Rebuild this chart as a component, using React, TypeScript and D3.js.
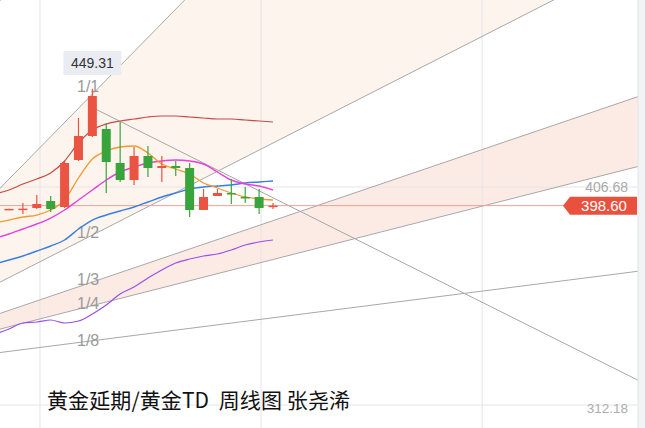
import React from 'react';
import * as d3 from 'd3';

const W = 645;
const H = 428;

// weekly candles (index 0..19)
const opens = [397.0, 397.0, 397.58, 400.61, 398.01, 418.38, 428.79, 431.82, 417.08, 409.71, 420.12, 414.92, 415.78, 414.92, 396.71, 402.78, 404.08, 402.35, 402.35, 398.01];
const closes = [397.2, 397.3, 399.31, 397.14, 417.08, 428.79, 446.13, 417.52, 409.71, 420.12, 414.92, 415.78, 414.92, 396.71, 402.35, 404.08, 403.65, 402.13, 397.58, 398.6];
const highs = [397.3, 399.74, 403.21, 402.78, 417.95, 436.59, 449.31, 434.42, 434.86, 424.02, 424.45, 420.12, 417.95, 417.08, 405.81, 405.81, 410.15, 406.68, 405.81, 399.74];
const lows = [396.9, 394.98, 397.14, 395.84, 397.58, 417.95, 428.35, 404.08, 408.85, 407.55, 411.0, 408.85, 411.45, 393.67, 396.71, 402.78, 399.31, 399.74, 394.98, 397.14];

// indicator lines, first value sits one week before candle 0
const MA_START = -1;
const ma5 = [391.07, 392.37, 393.68, 394.54, 396.71, 401.04, 410.58, 418.82, 422.29, 424.02, 424.45, 421.42, 416.65, 414.48, 412.32, 408.41, 406.25, 404.08, 402.35, 401.48, 401.04];
const ma10 = [384.57, 386.31, 388.47, 390.64, 393.24, 396.71, 401.04, 405.38, 409.71, 413.18, 415.35, 417.08, 417.95, 418.38, 417.95, 416.65, 413.18, 409.71, 407.98, 407.11, 405.38];
const bollMid = [373.3, 375.03, 376.77, 378.94, 381.1, 383.7, 388.47, 392.37, 394.54, 396.28, 398.01, 400.18, 402.35, 404.08, 405.81, 406.68, 407.11, 407.55, 408.41, 408.85, 409.28];
const bollUp = [403.65, 405.38, 407.98, 410.15, 412.75, 417.95, 425.75, 431.39, 433.99, 435.29, 436.16, 437.02, 437.46, 437.46, 437.02, 436.59, 436.16, 436.16, 435.72, 435.29, 434.86];
const bollLow = [342.96, 345.12, 347.73, 348.16, 349.03, 347.73, 348.59, 351.63, 355.53, 360.3, 363.33, 367.23, 370.7, 373.73, 375.47, 376.77, 377.64, 379.37, 381.54, 382.84, 383.7];

// gann fan
const gannOrigin = { index: -13.9, price: 324.75 };
const gannUnit = 6.14; // price per week for 1/1
const gannRatios = [2, 1, 1 / 2, 1 / 3, 1 / 4, 1 / 8];
const gannLabels = ['1/1', '1/2', '1/3', '1/4', '1/8'];
const gannLabelRatios = [1, 1 / 2, 1 / 3, 1 / 4, 1 / 8];

// descending line from the top
const trendStart = { index: 6, price: 441.14 };
const trendSlope = -3.01;

const gridPrices = [406.68, 312.18];
const gridIndices = [2.23, 18.14, 34.05];
const highPrice = 449.31;
const lastPrice = 398.6;
const title = '黄金延期/黄金TD  周线图 张尧浠';

const RED = '#ea5442';
const GREEN = '#3aa43c';
const NUM_FONT = '"Liberation Sans", Arial, sans-serif';

export default function App() {
  const x = d3.scaleLinear().domain([0, 19]).range([9, 273]);
  const y = d3.scaleLinear().domain([312.18, 406.68]).range([405, 187]);
  const plotRight = 638;
  const bodyW = 9;

  const line = (vals: number[]) =>
    d3
      .line<number>()
      .x((_, i) => x(i + MA_START))
      .y((v) => y(v))
      .curve(d3.curveMonotoneX)(vals) ?? '';

  const far = 60;
  const gannPt = (r: number, idx: number) => gannOrigin.price + gannUnit * r * (idx - gannOrigin.index);
  const ox = x(gannOrigin.index);
  const oy = y(gannOrigin.price);

  const band = (r1: number, r2: number) =>
    `M${ox},${oy}L${x(far)},${y(gannPt(r1, far))}L${x(far)},${y(gannPt(r2, far))}Z`;

  const labelIdx = 5.7;
  const labelDy = [-6, 1, 2, 2, 5];

  const priceY = y(lastPrice);
  const tagX = 570;

  return (
    <div style={{ position: 'fixed', left: 0, top: 0 }}>
      <svg width={W} height={H} style={{ display: 'block', background: '#fff' }}>
        <defs>
          <clipPath id="plot">
            <rect x={0} y={0} width={plotRight} height={H} />
          </clipPath>
        </defs>
        <g clipPath="url(#plot)">
          {/* fan bands */}
          <path d={band(1, 1 / 2)} fill="#fdf4ee" />
          <path d={band(1 / 3, 1 / 4)} fill="#fcebe5" />

          {/* grid */}
          {gridIndices.map((g, i) => (
            <line key={i} x1={x(g)} x2={x(g)} y1={0} y2={H} stroke="#e4e4e4" />
          ))}
          {gridPrices.map((p, i) => (
            <line key={i} x1={0} x2={plotRight} y1={y(p)} y2={y(p)} stroke="#e6e6e6" />
          ))}

          {/* gann lines */}
          {gannRatios.map((r, i) => (
            <line key={i} x1={ox} y1={oy} x2={x(far)} y2={y(gannPt(r, far))} stroke="#a8a8a8" strokeWidth={1} />
          ))}
          <line
            x1={x(trendStart.index)}
            y1={y(trendStart.price)}
            x2={x(far)}
            y2={y(trendStart.price + trendSlope * (far - trendStart.index))}
            stroke="#a8a8a8"
          />
          {gannLabels.map((t, i) => (
            <text
              key={t}
              x={77}
              y={y(gannPt(gannLabelRatios[i], labelIdx)) + labelDy[i]}
              fontSize={16}
              fill="#9a9a9a"
              fontFamily={NUM_FONT}
            >
              {t}
            </text>
          ))}

          {/* last price line */}
          <line x1={0} x2={tagX} y1={priceY} y2={priceY} stroke="#f2a092" strokeWidth={1} />

          {/* indicator lines */}
          <path d={line(bollUp)} fill="none" stroke="#c94a40" strokeWidth={1.2} />
          <path d={line(bollLow)} fill="none" stroke="#9c4ee8" strokeWidth={1.2} />
          <path d={line(bollMid)} fill="none" stroke="#3a7de0" strokeWidth={1.4} />
          <path d={line(ma10)} fill="none" stroke="#e63fdc" strokeWidth={1.4} />
          <path d={line(ma5)} fill="none" stroke="#f29a2e" strokeWidth={1.3} />

          {/* candles */}
          {opens.map((o, i) => {
            const c = closes[i];
            const up = c >= o;
            const col = up ? RED : GREEN;
            const cx = x(i);
            const top = y(Math.max(o, c));
            const bot = y(Math.min(o, c));
            return (
              <g key={i}>
                <line x1={cx} x2={cx} y1={y(highs[i])} y2={y(lows[i])} stroke={col} strokeWidth={1.2} />
                <rect x={cx - bodyW / 2} y={top} width={bodyW} height={Math.max(1.5, bot - top)} fill={col} />
              </g>
            );
          })}
        </g>

        {/* high tooltip */}
        <rect x={x(6) - 29} y={51} width={58} height={24} fill="#e9edf1" rx={1} />
        <text x={x(6)} y={68} textAnchor="middle" fontSize={14} fill="#333" fontFamily={NUM_FONT}>
          {highPrice.toFixed(2)}
        </text>

        {/* right axis strip */}
        <rect x={plotRight} y={0} width={W - plotRight} height={H} fill="#f2f3f5" />
        <line x1={plotRight} x2={plotRight} y1={0} y2={H} stroke="#e2e4e8" />

        {/* price labels */}
        <text x={628} y={y(gridPrices[0]) + 5} textAnchor="end" fontSize={14} fill="#a9a9a9" fontFamily={NUM_FONT}>
          {gridPrices[0].toFixed(2)}
        </text>
        <text x={628} y={y(gridPrices[1]) + 8} textAnchor="end" fontSize={13.5} fill="#aeaeae" fontFamily={NUM_FONT}>
          {gridPrices[1].toFixed(2)}
        </text>
        <path
          d={`M${tagX - 7},${priceY}L${tagX},${priceY - 9}L${plotRight - 1},${priceY - 9}L${plotRight - 1},${priceY + 9}L${tagX},${priceY + 9}Z`}
          fill="#e9503e"
        />
        <text x={(tagX + plotRight) / 2} y={priceY + 5.5} textAnchor="middle" fontSize={15} fill="#fff" fontFamily={NUM_FONT}>
          {lastPrice.toFixed(2)}
        </text>

        {/* title */}
        <text
          x={47}
          y={408}
          fontSize={21}
          letterSpacing={0.1}
          fill="#111"
          fontFamily='"Noto Sans CJK SC", sans-serif'
          style={{ whiteSpace: 'pre' }}
        >
          {title}
        </text>
      </svg>
    </div>
  );
}
